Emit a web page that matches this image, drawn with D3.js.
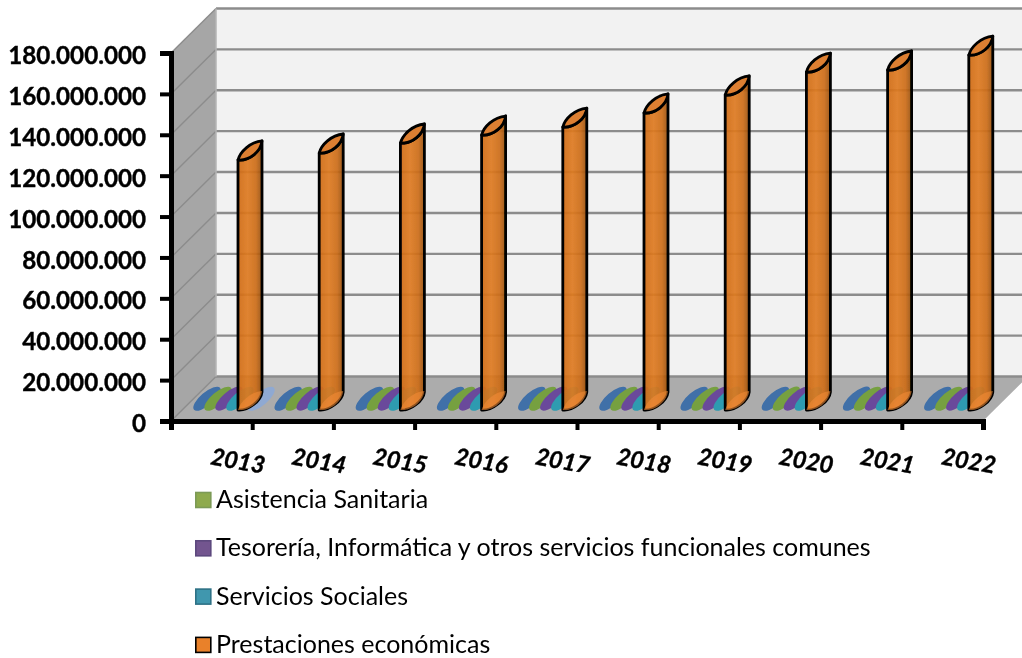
<!DOCTYPE html>
<html>
<head>
<meta charset="utf-8">
<script src="https://cdn.jsdelivr.net/npm/d3@7"></script>
<style>
    html, body { margin: 0; padding: 0; background: #fff; }
    svg { display: block; font-family: Lato, "Open Sans", sans-serif; }
</style>
</head>
<body>
<svg id="chart" width="1022" height="658"></svg>
<script>
// values
const years = ["2013", "2014", "2015", "2016", "2017", "2018", "2019", "2020", "2021", "2022"];
const yTicks = [0, 20e6, 40e6, 60e6, 80e6, 100e6, 120e6, 140e6, 160e6, 180e6];

const otros = [150000, 150000, 150000, 150000, 150000, 150000, 150000, 150000, 150000, 150000];
const asistencia = [150000, 150000, 150000, 150000, 150000, 150000, 150000, 150000, 150000, 150000];
const tesoreria = [200000, 200000, 200000, 200000, 200000, 200000, 200000, 200000, 200000, 200000];
const sociales = [150000, 150000, 150000, 150000, 150000, 150000, 150000, 150000, 150000, 150000];
const prestaciones = [122.3e6, 125.7e6, 130.6e6, 134.5e6, 138.4e6, 145.3e6, 154.1e6, 165.3e6, 166.3e6, 173.6e6];
const extra2013 = [100000];

const legendLabels = [
    "Asistencia Sanitaria",
    "Tesorería, Informática y otros servicios funcionales comunes",
    "Servicios Sociales",
    "Prestaciones económicas"
];
const legendColors = ["#8eaa4e", "#73558f", "#3f97ae", "#e9812c"];
const legendStrokes = ["#7c9a56", "#5d4a7e", "#2f7286", "#000"];

// geometry of the fake 3d box
const plotLeft = 171, plotRight = 983, plotTop = 53, plotBottom = 421;
const depthX = 45, depthY = -44.5;
const barW = 24, barRise = 18, baseLift = 11;

const svg = d3.select("#chart");

const defs = svg.append("defs");
defs.append("filter").attr("id", "soft")
    .append("feGaussianBlur").attr("stdDeviation", 0.6);
const grad = defs.append("linearGradient").attr("id", "orange");
grad.append("stop").attr("offset", "0").attr("stop-color", "#cf6a14");
grad.append("stop").attr("offset", "0.4").attr("stop-color", "#de7a20");
grad.append("stop").attr("offset", "0.75").attr("stop-color", "#cc6c18");
grad.append("stop").attr("offset", "1").attr("stop-color", "#96500f");

// scales
const x = d3.scaleBand().domain(years).range([plotLeft, plotRight]).padding(0);
const tickX = d3.scaleLinear().domain([0, 10]).range([plotLeft, plotRight]);
const y = d3.scaleLinear().domain([0, 180e6]).range([plotBottom, plotTop]);

const chart = svg.append("g").attr("filter", "url(#soft)");

// walls and floor
const poly = pts => pts.map(p => p.join(",")).join(" ");
chart.append("polygon")
    .attr("points", poly([[plotLeft + depthX, y(180e6) + depthY], [plotRight + depthX + 10, y(180e6) + depthY],
        [plotRight + depthX + 10, y(0) + depthY], [plotLeft + depthX, y(0) + depthY]]))
    .attr("fill", "#f2f2f2");
chart.append("polygon")
    .attr("points", poly([[plotLeft, y(180e6)], [plotLeft + depthX, y(180e6) + depthY],
        [plotLeft + depthX, y(0) + depthY], [plotLeft, y(0)]]))
    .attr("fill", "#a6a6a6");
chart.append("polygon")
    .attr("points", poly([[plotLeft, y(0)], [plotRight, y(0)], [plotRight + depthX, y(0) + depthY], [plotLeft + depthX, y(0) + depthY]]))
    .attr("fill", "#acacac");

// gridlines
chart.selectAll(".grid-back")
    .data(yTicks)
    .join("line")
    .attr("class", "grid-back")
    .attr("x1", plotLeft + depthX)
    .attr("x2", plotRight + depthX + 10)
    .attr("y1", d => y(d) + depthY)
    .attr("y2", d => y(d) + depthY)
    .attr("stroke", "#8c8c8c")
    .attr("stroke-width", 2.4);
chart.selectAll(".grid-side")
    .data(yTicks)
    .join("line")
    .attr("class", "grid-side")
    .attr("x1", plotLeft)
    .attr("x2", plotLeft + depthX)
    .attr("y1", d => y(d))
    .attr("y2", d => y(d) + depthY)
    .attr("stroke", "#8c8c8c")
    .attr("stroke-width", 1.4);
chart.append("line")
    .attr("x1", plotLeft + depthX).attr("x2", plotLeft + depthX)
    .attr("y1", y(180e6) + depthY).attr("y2", y(0) + depthY)
    .attr("stroke", "#b5b5b5").attr("stroke-width", 1.5);

// slanted lens used for cylinder caps
function lens(x0, y0) {
    const p = d3.path();
    p.moveTo(x0, y0);
    p.bezierCurveTo(x0 + 2, y0 - 8, x0 + 12, y0 - barRise, x0 + barW, y0 - barRise - 1);
    p.bezierCurveTo(x0 + barW - 1, y0 - 9, x0 + 12, y0 + 1, x0, y0);
    p.closePath();
    return p.toString();
}

// thin tilted ellipse for the series that barely rise off the floor
function flatCap(x0, y0) {
    const x1 = x0 + 26, y1 = y0 - 22;
    return `M${x0},${y0}A17,6.5 -40 1 1 ${x1},${y1}A17,6.5 -40 1 1 ${x0},${y0}Z`;
}

// low series: hardly more than their caps
const lowSeries = [
    { values: otros, offset: 23, color: "#3f6fa8" },
    { values: asistencia, offset: 34, color: "#76a03f" },
    { values: tesoreria, offset: 45, color: "#6b4a9b" },
    { values: sociales, offset: 56, color: "#2e9bb0" }
];

lowSeries.forEach(s => {
    chart.append("g")
        .selectAll("path")
        .data(years)
        .join("path")
        .attr("d", (d, i) => flatCap(x(d) + s.offset, y(s.values[i]) - baseLift))
        .attr("fill", s.color);
});

// pale ellipse behind the first orange bar
chart.append("path")
    .attr("d", flatCap(x(years[0]) + 77, y(extra2013[0]) - baseLift))
    .attr("fill", "#8fa9d2");

// orange cylinders
const bars = chart.append("g")
    .selectAll("g")
    .data(years)
    .join("g");

function barBody(d, i) {
    const x0 = x(d) + 67;
    const yTop = y(prestaciones[i]) - baseLift;
    const yBase = y(0) - baseLift;
    const p = d3.path();
    p.moveTo(x0, yTop);
    p.lineTo(x0, yBase);
    p.bezierCurveTo(x0 + 10, yBase + 1, x0 + barW - 1, yBase - 9, x0 + barW, yBase - barRise);
    p.lineTo(x0 + barW, yTop - barRise - 1);
    p.bezierCurveTo(x0 + barW - 1, yTop - 9, x0 + 12, yTop + 1, x0, yTop);
    p.closePath();
    return p.toString();
}

bars.append("path")
    .attr("d", barBody)
    .attr("fill", "url(#orange)")
    .attr("fill-opacity", 0.92)
    .attr("stroke", "#000")
    .attr("stroke-width", 2.8)
    .attr("stroke-linejoin", "round");

bars.append("path")
    .attr("d", d => lens(x(d) + 67, y(0) - baseLift))
    .attr("fill", "#f08a36")
    .attr("fill-opacity", 0.6);

bars.append("path")
    .attr("d", (d, i) => lens(x(d) + 67, y(prestaciones[i]) - baseLift))
    .attr("fill", "#dd7f30")
    .attr("stroke", "#000")
    .attr("stroke-width", 2.8)
    .attr("stroke-linejoin", "round");

// axes
const fmt = d => d === 0 ? "0" : d3.format(",")(d).replace(/,/g, ".");

const yAxis = chart.append("g")
    .attr("transform", `translate(${plotLeft},0)`)
    .call(d3.axisLeft(y).tickValues(yTicks).tickFormat(fmt).tickSize(11).tickPadding(14));
yAxis.select(".domain").attr("stroke-width", 5).attr("stroke", "#000");
yAxis.selectAll(".tick line").attr("stroke-width", 4).attr("stroke", "#000");
yAxis.selectAll(".tick text")
    .attr("fill", "#000")
    .attr("stroke", "#000")
    .attr("stroke-width", 0.4)
    .attr("dy", "0.44em")
    .style("font-family", "Lato, sans-serif")
    .style("font-size", "24.2px")
    .style("font-weight", 700);

const xAxis = chart.append("g")
    .attr("transform", `translate(0,${plotBottom})`)
    .call(d3.axisBottom(tickX).tickValues(d3.range(0, 11)).tickFormat("").tickSize(9));
xAxis.select(".domain").attr("stroke-width", 5).attr("stroke", "#000");
xAxis.selectAll(".tick line").attr("stroke-width", 4).attr("stroke", "#000");

// year labels, tilted
chart.append("g")
    .selectAll("text")
    .data(years)
    .join("text")
    .attr("transform", d => `translate(${x(d) + 65.5},469) rotate(10)`)
    .attr("text-anchor", "middle")
    .attr("stroke", "#000")
    .attr("stroke-width", 0.4)
    .style("font-size", "23.5px")
    .style("font-weight", 700)
    .style("font-style", "italic")
    .text(d => d);

// legend
const legend = chart.append("g")
    .selectAll("g")
    .data(legendLabels)
    .join("g")
    .attr("transform", (d, i) => `translate(195,${500 + i * 48.3})`);

legend.append("rect")
    .attr("x", 0.8)
    .attr("y", -7.5)
    .attr("width", 15)
    .attr("height", 15)
    .attr("fill", (d, i) => legendColors[i])
    .attr("stroke", (d, i) => legendStrokes[i])
    .attr("stroke-width", 1.6);

legend.append("text")
    .attr("x", 21)
    .attr("y", 8)
    .style("font-size", "25px")
    .style("font-weight", 400)
    .text(d => d);
</script>
</body>
</html>
